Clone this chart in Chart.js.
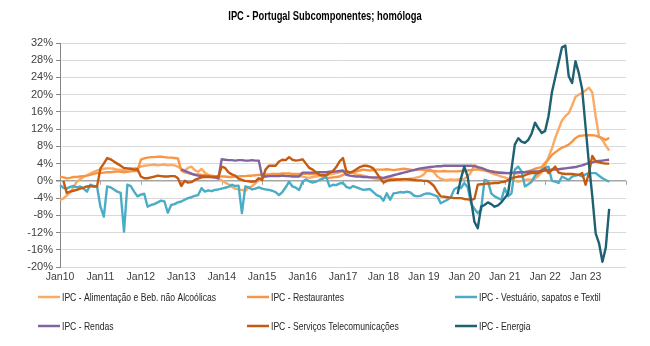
<!DOCTYPE html>
<html>
<head>
<meta charset="utf-8">
<script src="https://cdn.jsdelivr.net/npm/chart.js@4.4.0/dist/chart.umd.min.js"></script>
<style>
html,body{margin:0;padding:0;background:#fff}
#wrap{width:650px;height:346px}
</style>
</head>
<body>
<div id="wrap"><canvas id="chart" width="650" height="346"></canvas></div>
<script>
// monthly yoy %, first value = Jan 2010 unless a start index is given
const chartTitle = "IPC - Portugal Subcomponentes; homóloga";
const yearLabels = ["Jan10","Jan11","Jan12","Jan13","Jan14","Jan15","Jan16","Jan17","Jan 18","Jan 19","Jan 20","Jan 21","Jan 22","Jan 23"];
const seriesNames = ["IPC - Alimentação e Beb. não Alcoólicas","IPC - Restaurantes","IPC - Vestuário, sapatos e Textil","IPC - Rendas","IPC - Serviços Telecomunicações","IPC - Energia"];

const alimentacao = [
  -4.4,-4.1,-3.4,-2.7,-1.5,-0.2,0.4,0.9,1.3,1.7,2.1,2.4,
  2.6,2.8,2.9,2.9,2.8,2.6,2.6,2.5,2.7,2.8,2.9,3.0,
  3.3,3.5,3.6,3.7,3.8,3.6,3.7,3.8,3.6,3.7,3.6,3.3,
  2.8,2.4,3.0,3.3,2.5,2.1,2.8,1.9,1.4,1.0,0.8,0.5,
  0.1,-0.4,-0.8,-1.4,-1.8,-2.0,-2.1,-2.3,-1.6,-1.2,-0.6,0.2,
  0.8,1.0,1.2,1.4,1.5,1.4,1.3,1.2,1.1,1.2,1.3,1.2,
  1.0,0.8,0.7,0.9,1.0,1.1,1.2,1.3,1.5,1.6,1.8,2.0,
  2.2,2.3,2.1,1.8,1.5,1.4,1.2,1.0,0.8,0.6,0.5,0.5,
  0.4,0.5,0.6,0.5,0.4,0.3,0.2,0.4,0.5,0.6,0.8,1.0,
  1.5,2.4,2.6,2.0,1.0,0.5,0.2,0.2,0.3,0.2,0.3,0.4,
  0.5,1.0,2.0,3.7,3.2,2.8,2.5,2.2,1.8,1.5,1.3,1.0,
  0.8,0.5,0.3,0.0,-0.2,0.0,0.2,0.3,0.2,0.5,1.2,2.0,
  3.5,5.5,7.5,10.0,12.0,14.0,15.0,15.7,17.5,19.5,20.0,20.4,
  21.0,21.6,20.5,15.0,10.3,9.5,8.2,7.0
];
const restaurantes = [
  1.0,0.8,0.6,0.7,0.9,0.9,1.0,1.1,1.2,1.4,1.6,1.8,
  1.8,1.9,2.0,2.0,2.1,2.2,2.1,2.0,2.1,2.2,2.3,2.3,
  4.9,5.2,5.4,5.5,5.5,5.6,5.6,5.5,5.4,5.4,5.3,5.2,
  2.4,2.0,1.8,1.6,1.5,1.5,1.4,1.3,1.2,1.2,1.1,1.1,
  1.0,1.0,0.9,0.9,1.0,1.0,1.1,1.1,1.2,1.2,1.3,1.4,
  1.4,1.5,1.5,1.6,1.6,1.6,1.7,1.7,1.7,1.6,1.6,1.6,
  1.6,1.7,1.6,1.6,1.5,1.5,0.9,0.7,0.7,0.8,0.9,1.0,
  1.4,1.6,1.8,2.0,2.2,2.4,2.6,2.5,2.4,2.5,2.6,2.6,
  2.6,2.7,2.6,2.5,2.6,2.7,2.8,2.7,2.6,2.5,2.6,2.6,
  2.5,2.4,2.3,2.3,2.2,2.2,2.3,2.2,2.2,2.2,2.2,2.3,
  2.3,2.4,2.5,2.6,2.7,2.5,2.4,2.3,2.2,2.1,2.0,2.0,
  1.9,1.8,1.8,1.7,1.8,1.9,2.0,2.2,2.5,2.8,3.0,3.2,
  4.2,5.0,6.0,6.6,7.2,7.7,8.0,8.4,9.1,9.9,10.4,10.5,
  10.6,10.6,10.6,10.5,10.2,9.9,9.5,10.0
];
const vestuario = [
  -1.0,-1.6,-1.8,-1.4,-1.2,-1.5,-1.3,-1.8,-2.5,-0.9,-1.2,-1.3,
  -6.0,-8.3,-1.3,-1.5,-2.0,-2.5,-2.8,-11.8,-0.9,-1.2,-2.5,-3.6,
  -3.2,-3.0,-6.0,-5.6,-5.4,-5.0,-4.6,-4.8,-7.4,-5.6,-5.4,-5.0,
  -4.8,-4.4,-4.0,-3.8,-3.5,-3.3,-1.7,-2.5,-2.2,-2.4,-2.1,-2.0,
  -1.8,-1.6,-1.4,-0.9,-1.2,-1.1,-7.5,-1.3,-1.5,-2.0,-1.8,-1.5,
  -1.8,-2.0,-2.1,-2.3,-2.6,-3.3,-2.6,-1.5,-0.2,-1.3,-1.6,-2.1,
  -0.2,0.3,-0.1,-0.4,-0.2,0.2,0.5,1.0,-1.3,-0.9,-1.0,-0.6,
  -0.5,-1.4,-1.7,-1.2,-1.5,-1.8,-2.1,-2.0,-1.9,-2.6,-3.3,-3.6,
  -4.6,-2.9,-4.4,-2.9,-2.8,-2.6,-2.7,-2.5,-2.7,-3.4,-3.6,-3.5,
  -3.1,-2.9,-3.0,-3.3,-3.6,-5.2,-4.8,-4.4,-3.8,-2.0,-1.5,-1.7,
  -0.5,-1.5,-5.2,-6.5,-7.5,-6.7,0.2,0.0,-2.9,-3.6,-4.0,-4.4,
  -1.7,-3.6,-2.9,2.6,3.3,2.2,-1.3,-0.8,-0.2,1.2,2.0,2.6,
  3.0,3.3,0.0,-0.2,-0.5,1.0,0.6,0.2,1.0,1.2,1.4,1.0,
  1.5,1.8,1.8,1.8,1.2,0.6,0.2,-0.2
];
const rendasStart = 36; // Jan 2013
const rendas = [
  2.6,2.3,2.0,1.7,1.4,1.2,1.1,1.0,1.0,0.9,0.8,0.6,
  5.0,4.9,4.8,4.8,4.7,4.8,4.8,4.7,4.7,4.8,4.7,4.7,
  1.0,1.0,1.1,1.1,1.1,1.1,1.2,1.1,1.1,1.0,1.0,1.0,
  1.9,1.9,1.9,1.9,2.0,2.0,2.0,2.0,2.1,2.1,2.2,2.3,
  2.4,1.4,1.2,1.1,1.0,1.0,0.9,0.9,0.8,0.8,0.8,0.8,
  0.7,0.9,1.1,1.3,1.5,1.7,1.9,2.1,2.3,2.5,2.7,2.9,
  3.0,3.1,3.2,3.3,3.4,3.4,3.5,3.5,3.5,3.5,3.5,3.5,
  3.5,3.5,3.5,3.4,3.2,3.0,2.7,2.4,2.2,2.0,1.9,1.8,
  1.8,1.8,1.9,1.9,2.0,2.0,2.0,2.1,2.1,2.2,2.2,2.3,
  2.4,2.5,2.6,2.6,2.7,2.8,2.9,3.0,3.1,3.2,3.4,3.6,
  3.9,4.1,4.3,4.5,4.6,4.7,4.8,4.9
];
const telecomStart = 1; // Feb 2010
const telecom = [
  0.0,-2.8,-2.5,-2.3,-2.1,-1.8,-1.6,-1.3,-1.2,-1.3,-1.3,
  2.9,4.0,5.3,5.0,4.5,4.0,3.5,3.0,2.9,2.8,2.6,2.7,
  1.0,0.6,0.6,0.8,1.0,1.2,1.1,1.0,1.0,1.1,1.1,0.6,
  -1.2,0.0,-0.4,-0.3,0.2,0.5,0.8,0.9,0.9,0.9,0.9,0.9,
  3.3,3.0,2.0,1.5,1.2,0.5,0.2,0.0,-0.1,-0.2,-0.1,0.6,
  0.2,2.6,3.5,3.5,3.5,4.5,4.9,4.8,5.5,4.9,4.7,4.8,
  5.0,4.0,3.0,2.6,2.0,1.4,1.3,1.3,1.8,2.3,3.2,4.5,
  5.3,2.2,1.9,2.2,2.7,3.2,3.5,3.5,3.3,2.9,1.8,0.6,
  -0.4,0.0,0.2,0.2,0.3,0.3,0.4,0.4,0.3,0.2,0.1,0.1,
  0.0,0.0,-0.5,-1.2,-2.5,-3.6,-3.7,-3.8,-3.9,-4.0,-4.0,-4.0,
  -4.2,-4.3,-4.4,-4.2,-0.9,-0.8,-0.7,-0.6,-0.6,-0.5,-0.5,-0.3,
  -0.2,0.2,0.6,0.8,1.0,1.0,1.3,1.6,1.8,1.8,1.8,2.3,
  2.9,1.8,2.5,3.3,1.9,1.7,1.6,1.6,1.6,1.5,1.4,1.8,
  -0.9,1.8,5.8,4.5,4.3,4.1,4.0,4.0
];
const energiaStart = 118; // Nov 2019
const energia = [
  -3.1,0.5,
  3.3,1.0,-4.4,-9.5,-11.0,-6.0,-5.6,-5.0,-5.4,-6.0,-5.7,-5.0,
  -4.0,-2.9,2.6,8.4,9.9,9.1,8.8,9.5,11.0,13.5,12.2,11.1,
  11.6,15.0,20.5,24.0,27.5,31.0,31.4,24.3,22.7,27.8,25.0,21.2,
  12.5,4.0,-3.6,-12.2,-14.5,-18.8,-15.5,-6.5
];

const colors = ["#F9AA66","#F79646","#4BACC6","#8064A2","#C55A11","#1F6172"];
const FONT = "'Liberation Sans Narrow','Arial Narrow','Liberation Sans',sans-serif";
const NARROW = 0.78; // no condensed face installed, squeeze title/legend text instead

// one category per month, Jan 2010 .. Jan 2024 (right edge of the plot)
const months = [];
for (let y = 2010; y <= 2024; y++) {
  for (let m = 0; m < 12; m++) {
    if (y === 2024 && m > 0) break;
    months.push(y + "-" + String(m + 1).padStart(2, "0"));
  }
}

function pad(start, vals){ return Array(start).fill(null).concat(vals); }

const seriesData = [alimentacao, restaurantes, vestuario, pad(rendasStart, rendas), pad(telecomStart, telecom), pad(energiaStart, energia)];

const datasets = seriesData.map((d, i) => ({
  label: seriesNames[i],
  data: d,
  borderColor: colors[i],
  backgroundColor: colors[i],
  borderWidth: 2.4,
  pointRadius: 0,
  tension: 0,
  fill: false,
  spanGaps: false,
  borderJoinStyle: "round",
  order: seriesData.length - i
}));

function squeezedText(ctx, text, x, y, align){
  ctx.save();
  ctx.translate(x, y);
  ctx.scale(NARROW, 1);
  ctx.textAlign = align;
  ctx.fillText(text, 0, 0);
  ctx.restore();
}

// little tick marks hanging under the 0% line, one per January
const zeroTicks = {
  id: "zeroTicks",
  beforeDatasetsDraw(chart){
    const {ctx, scales:{x, y}} = chart;
    const y0 = y.getPixelForValue(0);
    ctx.save();
    ctx.strokeStyle = "#A6A6A6"; ctx.lineWidth = 1;
    for (let i = 0; i < months.length; i += 12) {
      const px = Math.round(x.getPixelForValue(i)) + 0.5;
      ctx.beginPath(); ctx.moveTo(px, y0); ctx.lineTo(px, y0 + 4); ctx.stroke();
    }
    ctx.restore();
  }
};

// title + legend (3 columns x 2 rows like the original)
const legendCols = [38, 247, 455];
const legendRows = [297, 326];
const textBits = {
  id: "textBits",
  afterDraw(chart){
    const ctx = chart.ctx;
    ctx.save();
    ctx.textBaseline = "middle";
    ctx.fillStyle = "#000";
    ctx.font = "bold 12px " + FONT;
    squeezedText(ctx, chartTitle, 325, 17, "center");
    ctx.font = "11px " + FONT;
    chart.data.datasets.forEach((ds, i) => {
      const x = legendCols[i % 3], y = legendRows[Math.floor(i / 3)];
      ctx.strokeStyle = ds.borderColor; ctx.lineWidth = 2.5;
      ctx.beginPath(); ctx.moveTo(x, y); ctx.lineTo(x + 22, y); ctx.stroke();
      ctx.fillStyle = "#262626";
      squeezedText(ctx, ds.label, x + 24, y + 0.5, "left");
    });
    ctx.restore();
  }
};

new Chart(document.getElementById("chart"), {
  type: "line",
  data: { labels: months, datasets },
  plugins: [zeroTicks, textBits],
  options: {
    responsive: false,
    animation: false,
    layout: { padding: { left: 0, right: 24, top: 43, bottom: 63 } },
    plugins: {
      legend: { display: false },
      tooltip: { enabled: false },
      title: { display: false }
    },
    scales: {
      x: {
        type: "category",
        offset: false,
        grid: { display: false, drawTicks: false },
        border: { display: false },
        ticks: {
          autoSkip: false, maxRotation: 0, minRotation: 0, padding: 4,
          color: "#404040", font: { family: FONT, size: 10.5 },
          callback: (v, i) => (i % 12 === 0 ? (yearLabels[i / 12] || "") : "")
        },
        afterFit: s => { s.height = 16; }
      },
      y: {
        min: -20, max: 32,
        ticks: {
          stepSize: 4, padding: 3,
          color: "#404040", font: { family: FONT, size: 11 },
          callback: v => v + "%"
        },
        grid: {
          color: c => (c.tick && c.tick.value === 0 ? "#A6A6A6" : "#D9D9D9"),
          lineWidth: c => (c.tick && c.tick.value === 0 ? 1.5 : 1),
          drawTicks: true, tickLength: 4, tickColor: "#868686"
        },
        border: { color: "#868686", width: 1 },
        afterFit: s => { s.width = 60; }
      }
    }
  }
});
</script>
</body>
</html>
